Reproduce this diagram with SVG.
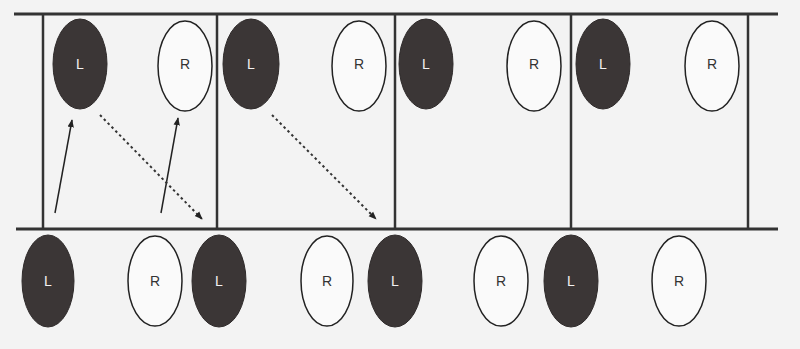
<svg xmlns="http://www.w3.org/2000/svg" width="800" height="349" viewBox="0 0 800 349">
<style>
.bg{fill:#f3f3f3}
.rail{stroke:#333;stroke-width:3;fill:none}
.post{stroke:#333;stroke-width:2.5;fill:none}
.L{fill:#3b3636;stroke:#2e2a2a;stroke-width:1}
.R{fill:#fafafa;stroke:#222;stroke-width:1.5}
.tL{fill:#f2f2f2;font-family:"Liberation Sans",Arial,sans-serif;font-size:14px;text-anchor:middle;dominant-baseline:central}
.tR{fill:#333;font-family:"Liberation Sans",Arial,sans-serif;font-size:14px;text-anchor:middle;dominant-baseline:central}
.solid{stroke:#222;stroke-width:1.5;fill:none}
.dot{stroke:#333;stroke-width:2;stroke-dasharray:2.5 3;fill:none}
</style>
<defs>
<marker id="ah" viewBox="0 0 10 10" refX="9" refY="5" markerWidth="8" markerHeight="8" markerUnits="userSpaceOnUse" orient="auto">
<path d="M0,1 L10,5 L0,9 Z" fill="#222"/>
</marker>
</defs>
<rect class="bg" x="0" y="0" width="800" height="349"/>
<g id="frame">
<line class="rail" x1="14" y1="14" x2="778" y2="14"/>
<line class="rail" x1="16" y1="229" x2="778" y2="229"/>
<line class="post" x1="43" y1="14" x2="43" y2="229"/>
<line class="post" x1="217" y1="14" x2="217" y2="229"/>
<line class="post" x1="395" y1="14" x2="395" y2="229"/>
<line class="post" x1="571" y1="14" x2="571" y2="229"/>
<line class="post" x1="748" y1="14" x2="748" y2="229"/>
</g>
<g id="L1"><ellipse class="L" cx="80" cy="64" rx="27" ry="45"/><text class="tL" x="80" y="64">L</text></g>
<g id="R1"><ellipse class="R" cx="185" cy="66" rx="27" ry="45"/><text class="tR" x="185" y="64">R</text></g>
<g id="L2"><ellipse class="L" cx="251" cy="64" rx="28" ry="45"/><text class="tL" x="251" y="64">L</text></g>
<g id="R2"><ellipse class="R" cx="359" cy="66" rx="27" ry="45"/><text class="tR" x="359" y="64">R</text></g>
<g id="L3"><ellipse class="L" cx="426" cy="64" rx="27" ry="45"/><text class="tL" x="426" y="64">L</text></g>
<g id="R3"><ellipse class="R" cx="534" cy="66" rx="27" ry="45"/><text class="tR" x="534" y="64">R</text></g>
<g id="L4"><ellipse class="L" cx="603" cy="64" rx="27" ry="45"/><text class="tL" x="603" y="64">L</text></g>
<g id="R4"><ellipse class="R" cx="712" cy="66" rx="27" ry="45"/><text class="tR" x="712" y="64">R</text></g>
<g id="L5"><ellipse class="L" cx="48" cy="281" rx="26" ry="46"/><text class="tL" x="48" y="281">L</text></g>
<g id="R5"><ellipse class="R" cx="155" cy="281" rx="27" ry="45"/><text class="tR" x="155" y="281">R</text></g>
<g id="L6"><ellipse class="L" cx="219" cy="281" rx="27" ry="46"/><text class="tL" x="219" y="281">L</text></g>
<g id="R6"><ellipse class="R" cx="327" cy="281" rx="26" ry="45"/><text class="tR" x="327" y="281">R</text></g>
<g id="L7"><ellipse class="L" cx="395" cy="281" rx="27" ry="46"/><text class="tL" x="395" y="281">L</text></g>
<g id="R7"><ellipse class="R" cx="501" cy="281" rx="27" ry="45"/><text class="tR" x="501" y="281">R</text></g>
<g id="L8"><ellipse class="L" cx="571" cy="281" rx="27" ry="46"/><text class="tL" x="571" y="281">L</text></g>
<g id="R8"><ellipse class="R" cx="679" cy="281" rx="27" ry="45"/><text class="tR" x="679" y="281">R</text></g>
<g id="connectors">
<line class="solid" x1="55" y1="213" x2="72" y2="120" marker-end="url(#ah)"/>
<line class="solid" x1="161" y1="213" x2="178" y2="118" marker-end="url(#ah)"/>
<line class="dot" x1="100" y1="115" x2="202" y2="219" marker-end="url(#ah)"/>
<line class="dot" x1="272" y1="115" x2="376" y2="219" marker-end="url(#ah)"/>
</g>
</svg>
